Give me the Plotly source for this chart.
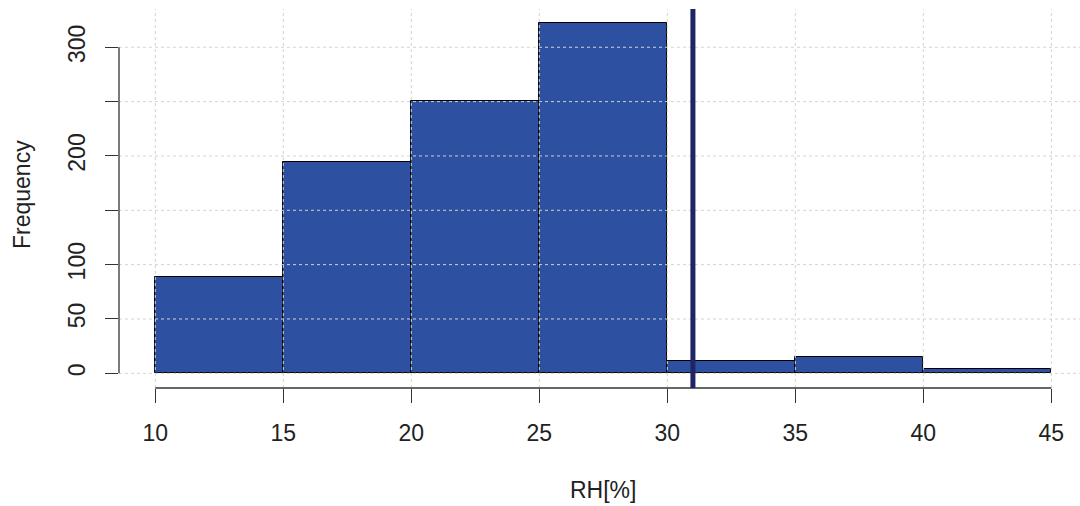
import plotly.graph_objects as go

# ---- data ----
bin_edges = [10, 15, 20, 25, 30, 35, 40, 45]
counts = [89, 194, 251, 322, 11, 15, 4]
x_ticks = [10, 15, 20, 25, 30, 35, 40, 45]
y_ticks = [0, 50, 100, 150, 200, 250, 300]
y_tick_labels = ["0", "50", "100", "", "200", "", "300"]
marker_value = 31
x_title = "RH[%]"
y_title = "Frequency"

# ---- style ----
FONT = "Liberation Sans, Arial, sans-serif"
FS = 23
TXT = "#222222"
AXC = "#333333"
BAR = "#2D50A0"
VLINE = "#1E2464"
GRID = "#D3D3D3"

centers = [(a + b) / 2 for a, b in zip(bin_edges[:-1], bin_edges[1:])]
widths = [b - a for a, b in zip(bin_edges[:-1], bin_edges[1:])]

fig = go.Figure()
fig.add_trace(go.Bar(
    x=centers, y=counts, width=widths,
    marker=dict(color=BAR, line=dict(color="black", width=1)),
    hoverinfo="x+y", showlegend=False,
))

shapes = []
# grid drawn over the bars (R grid() after hist)
for t in x_ticks:
    shapes.append(dict(type="line", xref="x", yref="paper", x0=t, x1=t, y0=0, y1=1,
                       line=dict(color=GRID, width=1, dash="dot"), layer="above"))
for t in y_ticks:
    shapes.append(dict(type="line", xref="paper", yref="y", x0=0, x1=1, y0=t, y1=t,
                       line=dict(color=GRID, width=1, dash="dot"), layer="above"))
# axis lines
shapes.append(dict(type="line", xref="x", yref="paper", x0=x_ticks[0], x1=x_ticks[-1], y0=0, y1=0,
                   line=dict(color=AXC, width=1.3), layer="above"))
shapes.append(dict(type="line", xref="paper", yref="y", x0=0, x1=0, y0=y_ticks[0], y1=y_ticks[-1],
                   line=dict(color=AXC, width=1.3), layer="above"))
# vertical reference line
shapes.append(dict(type="line", xref="x", yref="paper", x0=marker_value, x1=marker_value, y0=0, y1=1,
                   line=dict(color=VLINE, width=5), layer="above"))

fig.update_layout(
    width=1080, height=506,
    margin=dict(l=119, r=0, t=9, b=118),
    paper_bgcolor="white", plot_bgcolor="white",
    font=dict(family=FONT, size=FS, color=TXT),
    bargap=0,
    shapes=shapes,
    xaxis=dict(range=[8.582, 46.12], tickvals=x_ticks, ticktext=[str(v) for v in x_ticks],
               showgrid=False, zeroline=False, showline=False,
               ticks="outside", ticklen=14, tickwidth=1.3, tickcolor=AXC,
               tickfont=dict(family=FONT, size=FS, color=TXT), ticklabelstandoff=10),
    yaxis=dict(range=[-13.5, 335.2], tickvals=y_ticks, ticktext=y_tick_labels,
               showgrid=False, zeroline=False, showline=False,
               ticks="outside", ticklen=13, tickwidth=1.3, tickcolor=AXC, tickangle=-90,
               tickfont=dict(family=FONT, size=FS, color=TXT), ticklabelstandoff=11),
    annotations=[
        dict(text=x_title, xref="paper", yref="paper", x=(603 - 119) / 961, y=-(490 - 388) / 379,
             showarrow=False, xanchor="center", yanchor="middle",
             font=dict(family=FONT, size=FS, color=TXT)),
        dict(text=y_title, xref="paper", yref="paper", x=-(119 - 22) / 961, y=(388 - 195) / 379,
             showarrow=False, xanchor="center", yanchor="middle", textangle=-90,
             font=dict(family=FONT, size=FS, color=TXT)),
    ],
)

fig.write_html("out.html")
